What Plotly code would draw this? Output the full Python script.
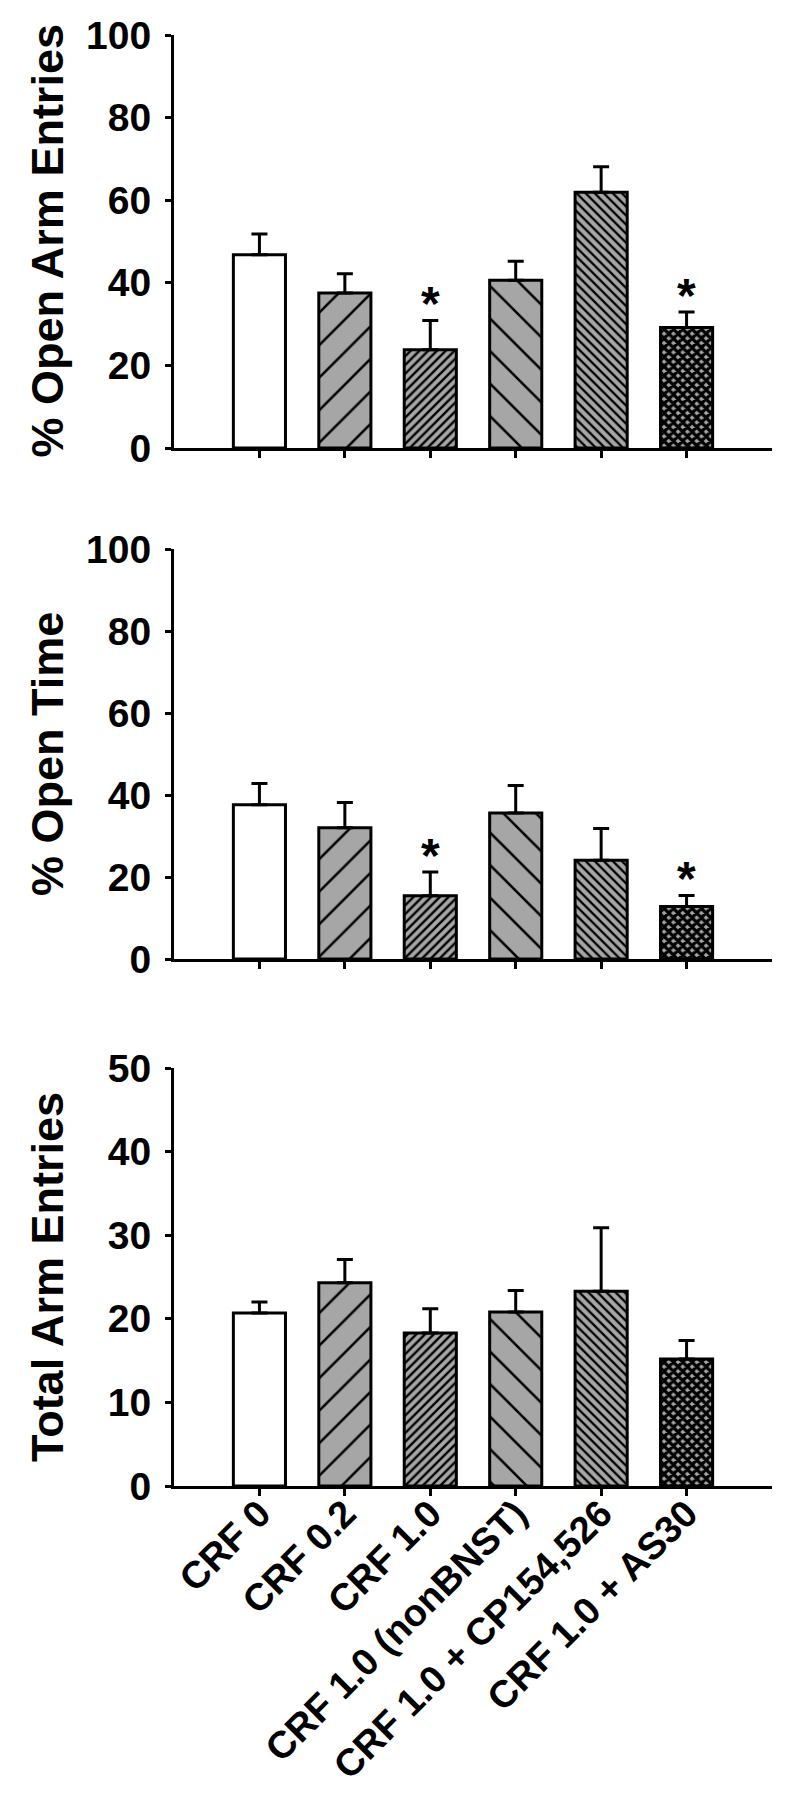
import plotly.graph_objects as go

categories = ["CRF 0", "CRF 0.2", "CRF 1.0", "CRF 1.0 (nonBNST)",
              "CRF 1.0 + CP154,526", "CRF 1.0 + AS30"]
positions = [1, 2, 3, 4, 5, 6]

open_arm_entries = [46.8, 37.5, 23.8, 40.6, 61.9, 29.2]
open_arm_err = [5.0, 4.7, 7.1, 4.6, 6.2, 3.7]
open_time = [37.6, 32.0, 15.4, 35.6, 24.1, 12.8]
open_time_err = [5.2, 6.2, 5.8, 6.7, 7.7, 2.7]
total_entries = [20.7, 24.3, 18.3, 20.8, 23.3, 15.2]
total_err = [1.3, 2.8, 2.9, 2.6, 7.6, 2.2]

sig_open_arm = [False, False, True, False, False, True]
sig_open_time = [False, False, True, False, False, True]
sig_total = [False] * 6

titles = ["% Open Arm Entries", "% Open Time", "Total Arm Entries"]
yranges = [[0, 100], [0, 100], [0, 50]]
ydtick = [20, 20, 10]

FONT = "Arial, Liberation Sans, sans-serif"
GRAY = "#a6a6a6"
# treated groups (index 1..5): hatch styles
shapes = ["/", "/", "\\", "\\", "x"]
psizes = [23, 6.2, 23, 6.4, 6.6]
psolid = [0.11, 0.38, 0.11, 0.36, 0.75]

# page body has an 8px margin; figure is made 8px smaller to fit
OFF = 8
W = 800.0 - OFF
H = 1806.0 - OFF
# reference pixel extents of each panel (top, bottom)
panels_px = [(35, 448), (549, 959), (1068, 1486)]
x_px = (174, 772)

fig = go.Figure()
data_sets = [(open_arm_entries, open_arm_err, sig_open_arm),
             (open_time, open_time_err, sig_open_time),
             (total_entries, total_err, sig_total)]

annotations = []
for i, (vals, errs, sigs) in enumerate(data_sets):
    ax = "" if i == 0 else str(i + 1)
    err_style = dict(type="data", symmetric=False, color="black",
                     thickness=3, width=8)
    # control group (white)
    fig.add_trace(go.Bar(
        x=positions[:1], y=vals[:1], width=0.61,
        xaxis="x" + ax, yaxis="y" + ax,
        marker=dict(color="white", line=dict(color="black", width=3)),
        error_y=dict(array=errs[:1], arrayminus=[0], **err_style),
        showlegend=False, hoverinfo="skip"))
    # hatched groups
    fig.add_trace(go.Bar(
        x=positions[1:], y=vals[1:], width=0.61,
        xaxis="x" + ax, yaxis="y" + ax,
        marker=dict(color=GRAY,
                    line=dict(color="black", width=3),
                    pattern=dict(shape=shapes, size=psizes, solidity=psolid,
                                 fgcolor="black", bgcolor=GRAY,
                                 fillmode="replace")),
        error_y=dict(array=errs[1:], arrayminus=[0] * 5, **err_style),
        showlegend=False, hoverinfo="skip"))
    for p, v, e, s in zip(positions, vals, errs, sigs):
        if s:
            annotations.append(dict(
                x=p, y=v + e, xref="x" + ax, yref="y" + ax,
                text="<b>*</b>", showarrow=False, yanchor="bottom",
                yshift=-12,
                font=dict(family=FONT, size=48, color="black")))
    top, bot = panels_px[i]
    annotations.append(dict(
        x=(47 - OFF) / W, y=1 - ((top + bot) / 2 - OFF) / H,
        xref="paper", yref="paper",
        text="<b>" + titles[i] + "</b>", textangle=-90, showarrow=False,
        xanchor="center", yanchor="middle",
        font=dict(family=FONT, size=45, color="black")))

layout = dict(
    template="none",
    width=W, height=H,
    margin=dict(l=0, r=0, t=0, b=0, pad=0, autoexpand=False),
    paper_bgcolor="white", plot_bgcolor="white",
    annotations=annotations,
    font=dict(family=FONT, color="black"),
)
for i in range(3):
    ax = "" if i == 0 else str(i + 1)
    top, bot = panels_px[i]
    layout["xaxis" + ax] = dict(
        domain=[(x_px[0] - OFF) / W, (x_px[1] - OFF) / W], range=[0, 7],
        anchor="y" + ax, automargin=False,
        tickmode="array", tickvals=positions,
        ticktext=(["<b>" + c + "</b>" for c in categories] if i == 2
                  else [""] * 6),
        showticklabels=(i == 2), tickangle=-45,
        tickfont=dict(family=FONT, size=38, color="black"),
        ticklabelstandoff=-20,
        ticks="outside", ticklen=7, tickwidth=3, tickcolor="black",
        showline=True, linecolor="black", linewidth=3,
        showgrid=False, zeroline=False, fixedrange=True)
    layout["yaxis" + ax] = dict(
        domain=[1 - (bot - OFF) / H, 1 - (top - OFF) / H], range=yranges[i],
        anchor="x" + ax, automargin=False, dtick=ydtick[i], tick0=0,
        tickmode="linear",
        tickfont=dict(family=FONT, size=39, color="black"),
        tickprefix="<b>", ticksuffix="</b>",
        ticks="outside", ticklen=6, tickwidth=3, tickcolor="black",
        ticklabelstandoff=6,
        showline=True, linecolor="black", linewidth=3,
        showgrid=False, zeroline=False, fixedrange=True)

fig.update_layout(**layout)
fig.write_html("out.html")
